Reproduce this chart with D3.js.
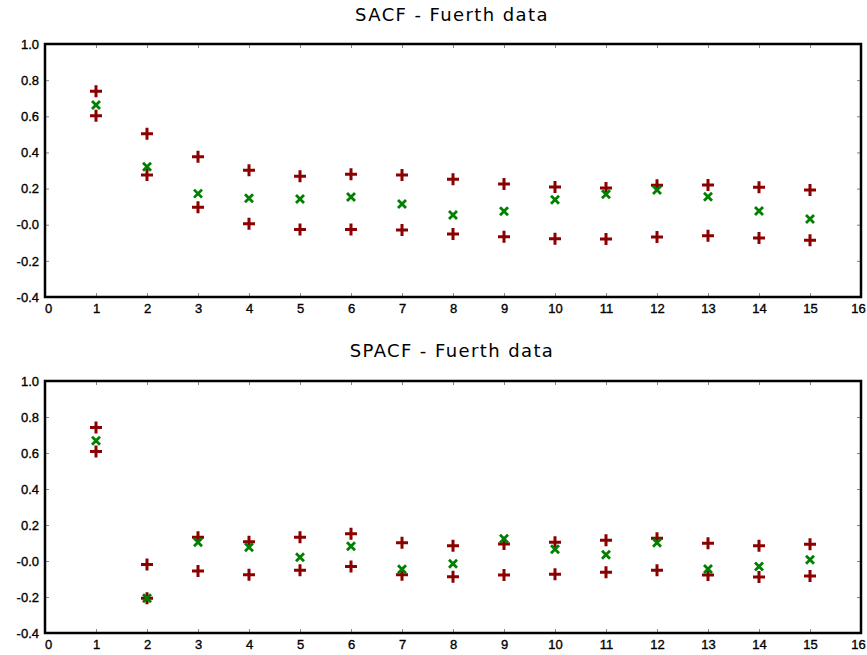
<!DOCTYPE html>
<html><head><meta charset="utf-8">
<script src="https://cdn.jsdelivr.net/npm/d3@7"></script>
<style>body{margin:0;background:#fff}svg{display:block}</style>
</head><body>
<svg id="chart" width="867" height="655"></svg>
<script>
const lags = [1,2,3,4,5,6,7,8,9,10,11,12,13,14,15];
const xTicks = [0,1,2,3,4,5,6,7,8,9,10,11,12,13,14,15,16];
const yTicks = [-0.4,-0.2,0.0,0.2,0.4,0.6,0.8,1.0];
const yTickLabels = ["-0.4","-0.2","-0.0","0.2","0.4","0.6","0.8","1.0"];

const sacfTitle = "SACF - Fuerth data";
const sacf      = [0.662,0.321,0.172,0.146,0.142,0.153,0.115,0.054,0.074,0.138,0.168,0.192,0.155,0.076,0.032];
const sacfUpper = [0.738,0.504,0.376,0.301,0.268,0.279,0.275,0.251,0.225,0.209,0.203,0.218,0.220,0.207,0.192];
const sacfLower = [0.603,0.275,0.096,0.006,-0.026,-0.026,-0.029,-0.051,-0.066,-0.077,-0.079,-0.068,-0.061,-0.074,-0.086];

const spacfTitle = "SPACF - Fuerth data";
const spacf      = [0.668,-0.207,0.104,0.076,0.021,0.082,-0.046,-0.015,0.124,0.065,0.035,0.102,-0.044,-0.031,0.007];
const spacfUpper = [0.741,-0.020,0.132,0.107,0.132,0.152,0.102,0.085,0.094,0.104,0.115,0.126,0.098,0.085,0.093];
const spacfLower = [0.609,-0.207,-0.056,-0.076,-0.052,-0.031,-0.076,-0.087,-0.078,-0.074,-0.063,-0.052,-0.078,-0.089,-0.083];

const svg = d3.select("#chart");
const font = "Liberation Sans, Arial, sans-serif";
const red = "#8b0000", green = "#008000";

function panel(title, est, up, lo, top, bottom, titleY) {
  const x = d3.scaleLinear().domain([0,16]).range([45,861]);
  const y = d3.scaleLinear().domain([-0.4,1.0]).range([bottom, top]);
  const g = svg.append("g");

  g.append("text").attr("x",452).attr("y",titleY).attr("text-anchor","middle")
    .attr("font-family","DejaVu Sans, sans-serif").attr("font-size",18).attr("letter-spacing",1.4)
    .attr("fill","#000").text(title);

  const tickCol = "#888";
  const bAx = g.append("g").attr("transform",`translate(0,${bottom})`)
    .call(d3.axisBottom(x).tickValues(xTicks).tickSize(-4).tickPadding(7).tickFormat(d3.format("d")));
  const tAx = g.append("g").attr("transform",`translate(0,${top})`)
    .call(d3.axisTop(x).tickValues(xTicks).tickSize(-4).tickFormat(""));
  const lAx = g.append("g").attr("transform",`translate(45,0)`)
    .call(d3.axisLeft(y).tickValues(yTicks).tickSize(-4).tickPadding(6).tickFormat((d,i)=>yTickLabels[i]));
  const rAx = g.append("g").attr("transform",`translate(861,0)`)
    .call(d3.axisRight(y).tickValues(yTicks).tickSize(-4).tickFormat(""));
  [bAx,tAx,lAx,rAx].forEach(a=>{
    a.select(".domain").remove();
    a.selectAll(".tick line").attr("stroke",tickCol).attr("stroke-width",1);
    a.selectAll("text").attr("font-family",font).attr("font-size",13).attr("fill","#000")
      .attr("stroke","#000").attr("stroke-width",0.35);
  });
  bAx.selectAll(".tick text").attr("dx",d=> d===0 ? 3 : (d===16 ? -3 : 0));

  g.append("rect").attr("x",x(0)).attr("y",top).attr("width",x(16)-x(0)).attr("height",bottom-top)
    .attr("fill","none").attr("stroke","#000").attr("stroke-width",2.5);

  const plus = "M-6,0H6M0,-6V6";
  const cross = "M-4,-4L4,4M-4,4L4,-4";
  const draw = (vals, path, col, w) => g.append("g").selectAll("path").data(vals).join("path")
      .attr("transform",(d,i)=>`translate(${x(lags[i])},${y(d)})`)
      .attr("d",path).attr("stroke",col).attr("stroke-width",w).attr("fill","none");
  draw(up, plus, red, 3);
  draw(lo, plus, red, 3);
  draw(est, cross, green, 2.8);
}

panel(sacfTitle, sacf, sacfUpper, sacfLower, 44, 297, 21);
panel(spacfTitle, spacf, spacfUpper, spacfLower, 381, 633, 357);
</script>
</body></html>
